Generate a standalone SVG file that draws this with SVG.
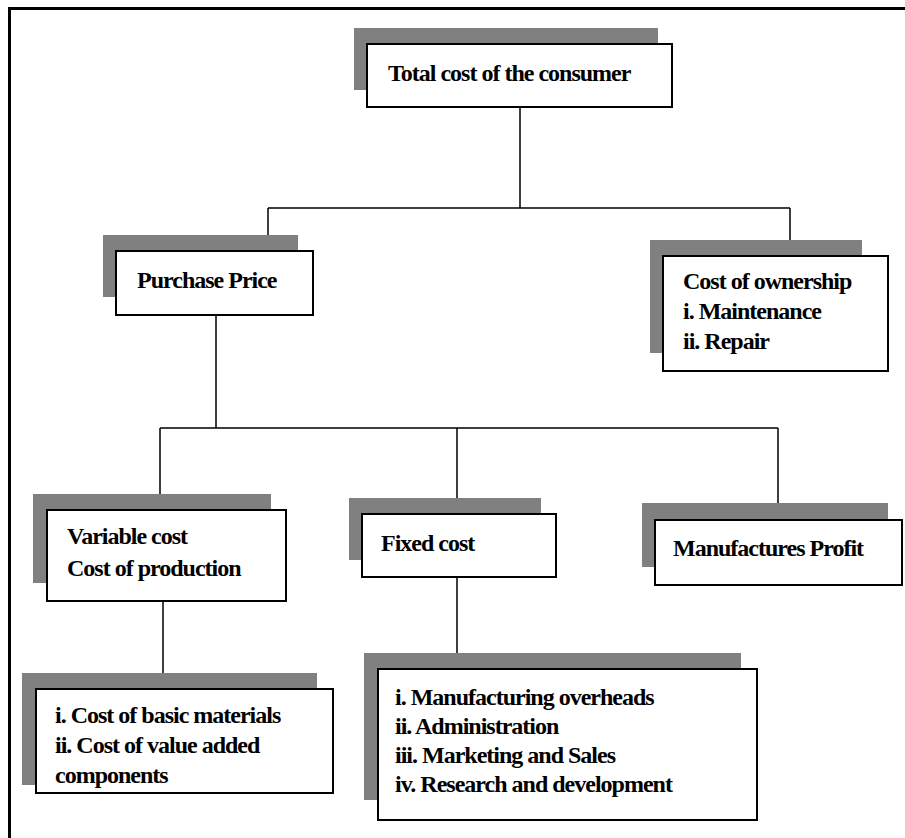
<svg xmlns="http://www.w3.org/2000/svg" width="905" height="838" viewBox="0 0 905 838">
<style>
.sh{fill:#808080;stroke:none}
.bx{fill:#fff;stroke:#000;stroke-width:2}
.t{font-family:"Liberation Serif","Times New Roman",serif;font-weight:bold;font-size:24px;fill:#000;letter-spacing:-1px}
.c{stroke:#000;stroke-width:1.5;fill:none}
</style>
<rect x="0" y="0" width="905" height="838" fill="#fff"/>
<path d="M9.5 838 V8.5 H905" fill="none" stroke="#000" stroke-width="3"/>
<g id="connectors">
<path class="c" d="M520 107 V208 M268 208 H790 M268 208 V251 M790 208 V256"/>
<path class="c" d="M216 315 V428 M160 428 H778 M160 428 V510 M457 428 V514 M778 428 V520"/>
<path class="c" d="M163 601 V689 M457 577 V669"/>
</g>
<g id="total">
<rect class="sh" x="354" y="28" width="304" height="62"/>
<rect class="bx" x="367" y="44" width="305" height="63"/>
<text class="t" x="388" y="81">Total cost of the consumer</text>
</g>
<g id="purchase">
<rect class="sh" x="103" y="235" width="195" height="62"/>
<rect class="bx" x="116" y="251" width="197" height="64"/>
<text class="t" x="137" y="288">Purchase Price</text>
</g>
<g id="ownership">
<rect class="sh" x="650" y="240" width="212" height="113"/>
<rect class="bx" x="663" y="256" width="225" height="115"/>
<text class="t" x="683" y="289">Cost of ownership</text>
<text class="t" x="683" y="319">i. Maintenance</text>
<text class="t" x="683" y="349">ii. Repair</text>
</g>
<g id="variable">
<rect class="sh" x="33" y="494" width="238" height="89"/>
<rect class="bx" x="47" y="510" width="239" height="91"/>
<text class="t" x="67" y="544">Variable cost</text>
<text class="t" x="67" y="576">Cost of production</text>
</g>
<g id="fixed">
<rect class="sh" x="349" y="498" width="192" height="62"/>
<rect class="bx" x="362" y="514" width="194" height="63"/>
<text class="t" x="381" y="551">Fixed cost</text>
</g>
<g id="profit">
<rect class="sh" x="642" y="503" width="246" height="64"/>
<rect class="bx" x="655" y="520" width="247" height="65"/>
<text class="t" x="673" y="556">Manufactures Profit</text>
</g>
<g id="materials">
<rect class="sh" x="22" y="673" width="295" height="112"/>
<rect class="bx" x="36" y="689" width="297" height="104"/>
<text class="t" x="55" y="723">i. Cost of basic materials</text>
<text class="t" x="55" y="753">ii. Cost of value added</text>
<text class="t" x="55" y="783">components</text>
</g>
<g id="overheads">
<rect class="sh" x="364" y="653" width="377" height="147"/>
<rect class="bx" x="378" y="669" width="379" height="151"/>
<text class="t" x="395" y="705">i. Manufacturing overheads</text>
<text class="t" x="395" y="734">ii. Administration</text>
<text class="t" x="395" y="763">iii. Marketing and Sales</text>
<text class="t" x="395" y="792">iv. Research and development</text>
</g>
</svg>
